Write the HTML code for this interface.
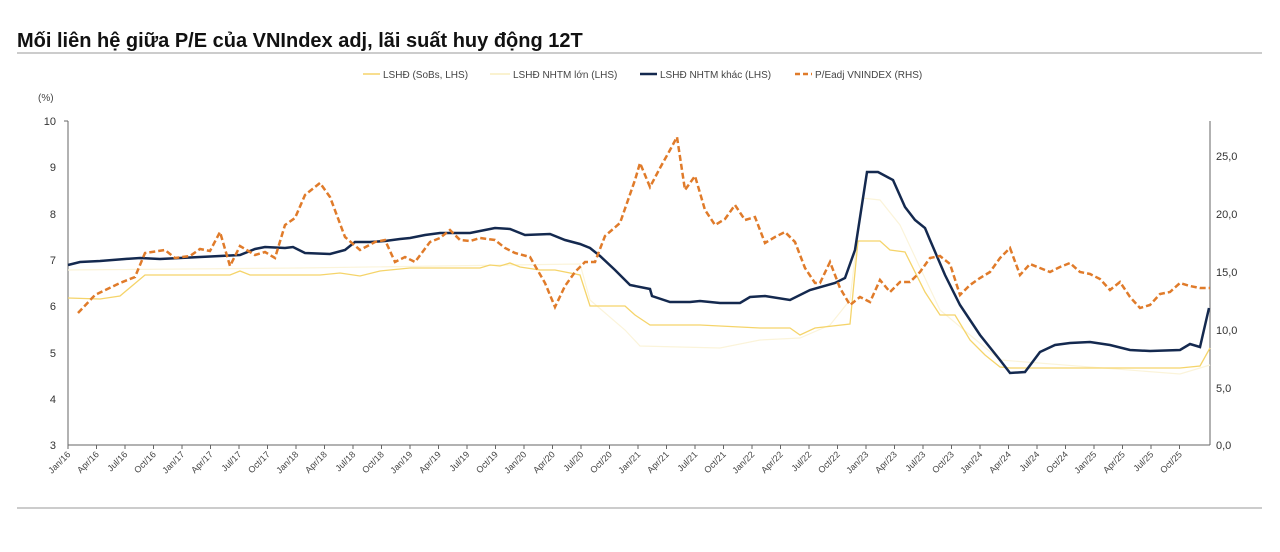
<!DOCTYPE html>
<html><head><meta charset="utf-8"><style>
body{margin:0;background:#fff;width:1280px;height:547px;overflow:hidden;font-family:"Liberation Sans",sans-serif}
</style></head><body>
<svg width="1280" height="547" xmlns="http://www.w3.org/2000/svg" font-family="Liberation Sans, sans-serif">
<text x="17" y="47" font-size="20" font-weight="bold" fill="#111">Mối liên hệ giữa P/E của VNIndex adj, lãi suất huy động 12T</text>
<line x1="17" y1="53" x2="1262" y2="53" stroke="#999" stroke-width="1"/>
<line x1="17" y1="508" x2="1262" y2="508" stroke="#999" stroke-width="1"/>
<g font-size="10" fill="#444">
<line x1="363" y1="74" x2="380" y2="74" stroke="#f5d46a" stroke-width="1.5"/><text x="383" y="78">LSHĐ (SoBs, LHS)</text>
<line x1="490" y1="74" x2="510" y2="74" stroke="#f8eec0" stroke-width="1.5"/><text x="513" y="78">LSHĐ NHTM lớn (LHS)</text>
<line x1="640" y1="74" x2="657" y2="74" stroke="#14294f" stroke-width="2.5"/><text x="660" y="78">LSHĐ NHTM khác (LHS)</text>
<line x1="795" y1="74" x2="812" y2="74" stroke="#e07b2a" stroke-width="2.5" stroke-dasharray="5,3"/><text x="815" y="78">P/Eadj VNINDEX (RHS)</text>
<text x="38" y="101">(%)</text>
</g>
<g stroke="#666" stroke-width="1" fill="none">
<line x1="68" y1="121" x2="68" y2="445"/><line x1="1210" y1="121" x2="1210" y2="445"/>
<line x1="68" y1="445" x2="1210" y2="445"/>
<line x1="64" y1="121" x2="68" y2="121"/>
</g>
<g font-size="11" fill="#333" text-anchor="end">
<text x="56" y="125">10</text><text x="56" y="171">9</text><text x="56" y="218">8</text><text x="56" y="264">7</text><text x="56" y="310">6</text><text x="56" y="357">5</text><text x="56" y="403">4</text><text x="56" y="449">3</text>
</g>
<g font-size="11" fill="#333">
<text x="1216" y="160">25,0</text><text x="1216" y="218">20,0</text><text x="1216" y="276">15,0</text><text x="1216" y="334">10,0</text><text x="1216" y="392">5,0</text><text x="1216" y="449">0,0</text>
</g>
<g stroke="#666">
<line x1="68" y1="445" x2="68" y2="449"/><line x1="96.5" y1="445" x2="96.5" y2="449"/><line x1="125" y1="445" x2="125" y2="449"/><line x1="153.5" y1="445" x2="153.5" y2="449"/><line x1="182" y1="445" x2="182" y2="449"/><line x1="210.5" y1="445" x2="210.5" y2="449"/><line x1="239" y1="445" x2="239" y2="449"/><line x1="267.5" y1="445" x2="267.5" y2="449"/><line x1="296" y1="445" x2="296" y2="449"/><line x1="324.5" y1="445" x2="324.5" y2="449"/><line x1="353" y1="445" x2="353" y2="449"/><line x1="381.5" y1="445" x2="381.5" y2="449"/><line x1="410" y1="445" x2="410" y2="449"/><line x1="438.5" y1="445" x2="438.5" y2="449"/><line x1="467" y1="445" x2="467" y2="449"/><line x1="495.5" y1="445" x2="495.5" y2="449"/><line x1="524" y1="445" x2="524" y2="449"/><line x1="552.5" y1="445" x2="552.5" y2="449"/><line x1="581" y1="445" x2="581" y2="449"/><line x1="609.5" y1="445" x2="609.5" y2="449"/><line x1="638" y1="445" x2="638" y2="449"/><line x1="666.5" y1="445" x2="666.5" y2="449"/><line x1="695" y1="445" x2="695" y2="449"/><line x1="723.5" y1="445" x2="723.5" y2="449"/><line x1="752" y1="445" x2="752" y2="449"/><line x1="780.5" y1="445" x2="780.5" y2="449"/><line x1="809" y1="445" x2="809" y2="449"/><line x1="837.5" y1="445" x2="837.5" y2="449"/><line x1="866" y1="445" x2="866" y2="449"/><line x1="894.5" y1="445" x2="894.5" y2="449"/><line x1="923" y1="445" x2="923" y2="449"/><line x1="951.5" y1="445" x2="951.5" y2="449"/><line x1="980" y1="445" x2="980" y2="449"/><line x1="1008.5" y1="445" x2="1008.5" y2="449"/><line x1="1037" y1="445" x2="1037" y2="449"/><line x1="1065.5" y1="445" x2="1065.5" y2="449"/><line x1="1094" y1="445" x2="1094" y2="449"/><line x1="1122.5" y1="445" x2="1122.5" y2="449"/><line x1="1151" y1="445" x2="1151" y2="449"/><line x1="1179.5" y1="445" x2="1179.5" y2="449"/>
</g>
<g font-size="9" fill="#444" text-anchor="end">
<text transform="translate(71,455) rotate(-45)">Jan/16</text><text transform="translate(99.5,455) rotate(-45)">Apr/16</text><text transform="translate(128,455) rotate(-45)">Jul/16</text><text transform="translate(156.5,455) rotate(-45)">Oct/16</text>
<text transform="translate(185,455) rotate(-45)">Jan/17</text><text transform="translate(213.5,455) rotate(-45)">Apr/17</text><text transform="translate(242,455) rotate(-45)">Jul/17</text><text transform="translate(270.5,455) rotate(-45)">Oct/17</text>
<text transform="translate(299,455) rotate(-45)">Jan/18</text><text transform="translate(327.5,455) rotate(-45)">Apr/18</text><text transform="translate(356,455) rotate(-45)">Jul/18</text><text transform="translate(384.5,455) rotate(-45)">Oct/18</text>
<text transform="translate(413,455) rotate(-45)">Jan/19</text><text transform="translate(441.5,455) rotate(-45)">Apr/19</text><text transform="translate(470,455) rotate(-45)">Jul/19</text><text transform="translate(498.5,455) rotate(-45)">Oct/19</text>
<text transform="translate(527,455) rotate(-45)">Jan/20</text><text transform="translate(555.5,455) rotate(-45)">Apr/20</text><text transform="translate(584,455) rotate(-45)">Jul/20</text><text transform="translate(612.5,455) rotate(-45)">Oct/20</text>
<text transform="translate(641,455) rotate(-45)">Jan/21</text><text transform="translate(669.5,455) rotate(-45)">Apr/21</text><text transform="translate(698,455) rotate(-45)">Jul/21</text><text transform="translate(726.5,455) rotate(-45)">Oct/21</text>
<text transform="translate(755,455) rotate(-45)">Jan/22</text><text transform="translate(783.5,455) rotate(-45)">Apr/22</text><text transform="translate(812,455) rotate(-45)">Jul/22</text><text transform="translate(840.5,455) rotate(-45)">Oct/22</text>
<text transform="translate(869,455) rotate(-45)">Jan/23</text><text transform="translate(897.5,455) rotate(-45)">Apr/23</text><text transform="translate(926,455) rotate(-45)">Jul/23</text><text transform="translate(954.5,455) rotate(-45)">Oct/23</text>
<text transform="translate(983,455) rotate(-45)">Jan/24</text><text transform="translate(1011.5,455) rotate(-45)">Apr/24</text><text transform="translate(1040,455) rotate(-45)">Jul/24</text><text transform="translate(1068.5,455) rotate(-45)">Oct/24</text>
<text transform="translate(1097,455) rotate(-45)">Jan/25</text><text transform="translate(1125.5,455) rotate(-45)">Apr/25</text><text transform="translate(1154,455) rotate(-45)">Jul/25</text><text transform="translate(1182.5,455) rotate(-45)">Oct/25</text>
</g>
<polyline fill="none" stroke="#fbf4da" stroke-width="1.2" points="68,270 300,268 580,264 590,300 625,330 640,346 720,348 760,340 800,338 830,325 850,300 862,198 880,200 900,225 940,310 1000,360 1180,374 1210,365"/>
<polyline fill="none" stroke="#f5d46a" stroke-width="1.3" points="68,298 100,299 120,296 145,275 230,275 240,271 250,275 320,275 340,273 360,276 380,271 410,268 480,268 490,265 500,266 510,263 520,267 540,270 555,270 580,275 590,306 625,306 635,315 650,325 700,325 760,328 790,328 800,335 815,328 850,324 858,241 880,241 890,250 905,252 925,292 940,315 955,315 970,340 985,355 1000,367 1010,368 1180,368 1200,366 1210,348"/>
<polyline fill="none" stroke="#14294f" stroke-width="2.5" points="68,265 80,262 100,261 125,259 140,258 160,259 180,258 200,257 240,255 255,249 265,247 285,248 293,247 305,253 330,254 345,250 355,242 370,242 385,241 400,239 410,238 425,235 440,233 470,233 485,230 495,228 510,229 525,235 550,234 565,240 580,244 590,248 600,256 615,270 630,285 650,289 652,296 670,302 690,302 700,301 720,303 740,303 750,297 765,296 790,300 810,290 835,283 845,278 855,250 867,172 878,172 893,180 905,207 915,220 925,228 930,240 945,275 960,305 980,335 1000,360 1010,373 1025,372 1040,352 1055,345 1070,343 1090,342 1110,345 1130,350 1150,351 1180,350 1190,344 1200,347 1209,308"/>
<polyline fill="none" stroke="#e07b2a" stroke-width="2.5" stroke-dasharray="6,3" points="78,313 95,295 120,283 135,277 145,253 165,250 175,258 190,256 200,249 210,251 220,232 230,266 240,246 255,255 265,252 275,258 285,225 295,218 305,195 320,183 330,197 345,237 360,250 375,242 385,240 395,262 405,257 415,262 430,242 440,238 450,230 460,240 470,241 480,238 495,240 505,248 515,253 530,257 545,283 555,307 565,286 575,272 585,262 595,262 605,236 620,223 635,180 640,163 650,187 660,168 670,150 677,137 685,190 695,176 705,210 715,225 725,219 735,205 745,220 755,217 765,243 775,237 785,232 795,242 805,268 815,283 820,283 830,262 840,288 850,305 860,297 870,302 880,280 890,292 900,282 910,282 920,272 930,258 940,256 950,264 960,295 970,285 980,278 990,272 1000,258 1010,248 1020,275 1030,264 1040,268 1050,272 1060,267 1070,263 1080,272 1090,274 1100,279 1110,290 1120,282 1130,297 1140,308 1150,305 1160,294 1170,292 1180,283 1190,286 1200,288 1210,288"/>
</svg>
</body></html>
